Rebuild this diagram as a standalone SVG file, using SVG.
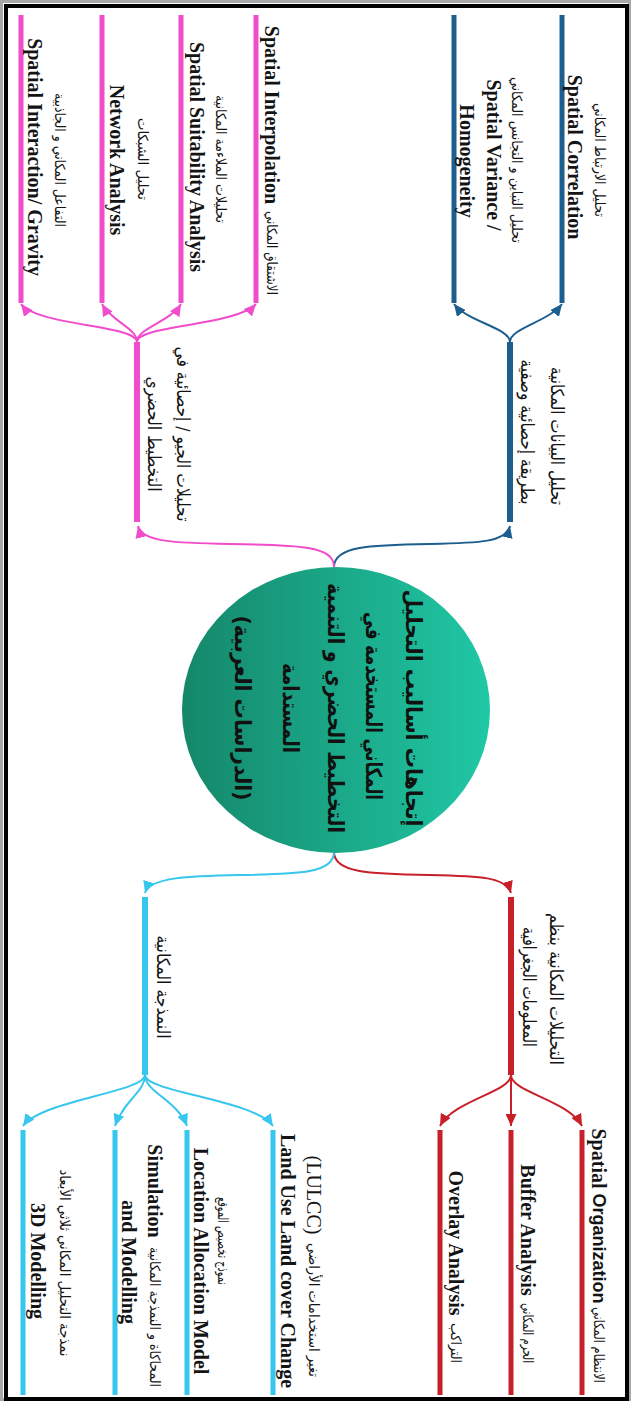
<svg xmlns="http://www.w3.org/2000/svg" width="631" height="1401" viewBox="0 0 631 1401">
<style>
.en{font-family:"Liberation Serif",serif;font-weight:bold;font-size:20px;fill:#141414}
.sa{font-family:"Liberation Sans",sans-serif;font-weight:bold;font-size:18px}
.ar{font-family:"DejaVu Sans",sans-serif;font-size:14px;fill:#141414}
.arm{font-family:"DejaVu Sans",sans-serif;font-size:18px;fill:#141414}
.arc{font-family:"DejaVu Sans",sans-serif;font-size:22px;font-weight:bold;fill:#111}
text{dominant-baseline:central;text-anchor:middle}
.cb{stroke:#1c5f8e}.cp{stroke:#f04ccb}.cr{stroke:#c8202a}.cc{stroke:#36c6ee}
.conn path{fill:none;stroke-width:2}
.bar{stroke-width:5}
.mbar{stroke-width:6}
</style>
<defs>
<linearGradient id="g" x1="0" y1="0" x2="1" y2="0">
<stop offset="0" stop-color="#15876a"/><stop offset="1" stop-color="#20c8a5"/>
</linearGradient>
<marker id="mb" markerUnits="userSpaceOnUse" markerWidth="13" markerHeight="11" refX="12" refY="5.5" orient="auto"><path d="M0,0 L12,5.5 L0,11 z" fill="#1c5f8e"/></marker>
<marker id="mp" markerUnits="userSpaceOnUse" markerWidth="13" markerHeight="11" refX="12" refY="5.5" orient="auto"><path d="M0,0 L12,5.5 L0,11 z" fill="#f04ccb"/></marker>
<marker id="mr" markerUnits="userSpaceOnUse" markerWidth="13" markerHeight="11" refX="12" refY="5.5" orient="auto"><path d="M0,0 L12,5.5 L0,11 z" fill="#c8202a"/></marker>
<marker id="mc" markerUnits="userSpaceOnUse" markerWidth="13" markerHeight="11" refX="12" refY="5.5" orient="auto"><path d="M0,0 L12,5.5 L0,11 z" fill="#36c6ee"/></marker>
</defs>
<rect x="0" y="0" width="631" height="1401" fill="#fff"/>
<rect x="1.5" y="1.5" width="628" height="1398" fill="none" stroke="#a8a8a8" stroke-width="3"/>
<rect x="6" y="6" width="621" height="1393" fill="none" stroke="#000" stroke-width="4"/>

<g id="connectors" class="conn">
<path class="cb" d="M334,567 C334,546 370,545 430,544 C480,543 506,542 510,526" marker-end="url(#mb)"/>
<path class="cp" d="M334,567 C334,546 300,545 230,544 C175,543 142,542 138,526" marker-end="url(#mp)"/>
<path class="cr" d="M334,852 C334,873 370,874 430,875 C480,876 506,877 511,893" marker-end="url(#mr)"/>
<path class="cc" d="M334,852 C334,873 300,874 240,875 C190,876 150,877 145,893" marker-end="url(#mc)"/>
<path class="cb" d="M510,342 C510,328 548,322 562,304" marker-end="url(#mb)"/>
<path class="cb" d="M510,342 C510,328 468,322 454,304" marker-end="url(#mb)"/>
<path class="cp" d="M137,342 C137,325 236,326 256,304" marker-end="url(#mp)"/>
<path class="cp" d="M137,342 C137,328 170,322 181,304" marker-end="url(#mp)"/>
<path class="cp" d="M137,342 C137,328 112,322 102,304" marker-end="url(#mp)"/>
<path class="cp" d="M137,342 C137,325 38,326 21,304" marker-end="url(#mp)"/>
<path class="cr" d="M511,1075 C511,1092 568,1100 582,1126" marker-end="url(#mr)"/>
<path class="cr" d="M511,1075 L511,1126" marker-end="url(#mr)"/>
<path class="cr" d="M511,1075 C511,1092 454,1100 440,1126" marker-end="url(#mr)"/>
<path class="cc" d="M145,1075 C145,1092 255,1100 273,1126" marker-end="url(#mc)"/>
<path class="cc" d="M145,1075 C145,1092 177,1100 187,1126" marker-end="url(#mc)"/>
<path class="cc" d="M145,1075 C145,1092 124,1100 115,1126" marker-end="url(#mc)"/>
<path class="cc" d="M145,1075 C145,1092 42,1100 23,1126" marker-end="url(#mc)"/>
</g>

<g id="center">
<ellipse cx="336" cy="710" rx="154" ry="143" fill="url(#g)"/>
<text class="arc" transform="translate(413,708) rotate(90)" textLength="237" lengthAdjust="spacingAndGlyphs">إتجاهات أساليب التحليل</text>
<text class="arc" transform="translate(373,706) rotate(90)" textLength="188" lengthAdjust="spacingAndGlyphs">المكاني المستخدمة في</text>
<text class="arc" transform="translate(335,708) rotate(90)" textLength="250" lengthAdjust="spacingAndGlyphs">التخطيط الحضري و التنمية</text>
<text class="arc" transform="translate(290,708) rotate(90)" textLength="90" lengthAdjust="spacingAndGlyphs">المستدامة</text>
<text class="arc" transform="translate(242,708) rotate(90)" textLength="185" lengthAdjust="spacingAndGlyphs">(الدراسات العربية)</text>
</g>

<g id="b-main">
<line class="cb mbar" x1="510" y1="342" x2="510" y2="522"/>
<text class="arm" transform="translate(557,436) rotate(90)" textLength="138" lengthAdjust="spacingAndGlyphs">تحليل البيانات المكانية</text>
<text class="arm" transform="translate(527,432) rotate(90)" textLength="145" lengthAdjust="spacingAndGlyphs">بطريقة إحصائية وصفية</text>
</g>
<g id="b-corr">
<line class="cb bar" x1="562" y1="15" x2="562" y2="303"/>
<text class="ar" transform="translate(600,160) rotate(90)" textLength="114" lengthAdjust="spacingAndGlyphs">تحليل الارتباط المكاني</text>
<text class="en" transform="translate(575,157) rotate(90)">Spatial Correlation</text>
</g>
<g id="b-var">
<line class="cb bar" x1="454" y1="15" x2="454" y2="303"/>
<text class="ar" transform="translate(517,160) rotate(90)" textLength="166" lengthAdjust="spacingAndGlyphs">تحليل التباين و التجانس المكاني</text>
<text class="en" transform="translate(494,155) rotate(90)">Spatial Variance /</text>
<text class="en" transform="translate(467,161) rotate(90)">Homogeneity</text>
</g>

<g id="p-main">
<line class="cp mbar" x1="137" y1="342" x2="137" y2="522"/>
<text class="arm" transform="translate(183,434) rotate(90)" textLength="175" lengthAdjust="spacingAndGlyphs">تحليلات الجيو / إحصائية في</text>
<text class="arm" transform="translate(154,434) rotate(90)" textLength="115" lengthAdjust="spacingAndGlyphs">التخطيط الحضري</text>
</g>
<g id="p-interp">
<line class="cp bar" x1="256" y1="15" x2="256" y2="303"/>
<text class="en" transform="translate(272,115) rotate(90)">Spatial Interpolation</text>
<text class="ar" transform="translate(272,253) rotate(90)" textLength="84" lengthAdjust="spacingAndGlyphs">الاشتقاق المكاني</text>
</g>
<g id="p-suit">
<line class="cp bar" x1="181" y1="15" x2="181" y2="303"/>
<text class="ar" transform="translate(221,159) rotate(90)" textLength="128" lengthAdjust="spacingAndGlyphs">تحليلات الملاءمة المكانية</text>
<text class="en" transform="translate(197,157) rotate(90)">Spatial Suitability Analysis</text>
</g>
<g id="p-net">
<line class="cp bar" x1="102" y1="15" x2="102" y2="303"/>
<text class="ar" transform="translate(143,159) rotate(90)" textLength="82" lengthAdjust="spacingAndGlyphs">تحليل الشبكات</text>
<text class="en" transform="translate(117,160) rotate(90)">Network Analysis</text>
</g>
<g id="p-grav">
<line class="cp bar" x1="21" y1="15" x2="21" y2="303"/>
<text class="ar" transform="translate(60,160) rotate(90)" textLength="134" lengthAdjust="spacingAndGlyphs">التفاعل المكاني و الجاذبية</text>
<text class="en" transform="translate(35,157) rotate(90)">Spatial Interaction/ Gravity</text>
</g>

<g id="r-main">
<line class="cr mbar" x1="511" y1="897" x2="511" y2="1075"/>
<text class="arm" transform="translate(556,989) rotate(90)" textLength="152" lengthAdjust="spacingAndGlyphs">التحليلات المكانية بنظم</text>
<text class="arm" transform="translate(529,987) rotate(90)" textLength="120" lengthAdjust="spacingAndGlyphs">المعلومات الجغرافية</text>
</g>
<g id="r-org">
<line class="cr bar" x1="582" y1="1130" x2="582" y2="1395"/>
<text class="en" transform="translate(599,1216) rotate(90)">Spatial <tspan class="sa">Organization</tspan></text>
<text class="ar" transform="translate(599,1345) rotate(90)" textLength="76" lengthAdjust="spacingAndGlyphs">الانتظام المكاني</text>
</g>
<g id="r-buf">
<line class="cr bar" x1="511" y1="1130" x2="511" y2="1395"/>
<text class="en" transform="translate(528,1230) rotate(90)">Buffer Analysis</text>
<text class="ar" transform="translate(528,1333) rotate(90)" textLength="60" lengthAdjust="spacingAndGlyphs">الحرم المكاني</text>
</g>
<g id="r-ovl">
<line class="cr bar" x1="440" y1="1130" x2="440" y2="1395"/>
<text class="en" transform="translate(456,1243) rotate(90)">Overlay Analysis</text>
<text class="ar" transform="translate(456,1343) rotate(90)" textLength="40" lengthAdjust="spacingAndGlyphs">التراكب</text>
</g>

<g id="c-main">
<line class="cc mbar" x1="145" y1="897" x2="145" y2="1075"/>
<text class="arm" transform="translate(163,987) rotate(90)" textLength="103" lengthAdjust="spacingAndGlyphs">النمذجة المكانية</text>
</g>
<g id="c-lulcc">
<line class="cc bar" x1="273" y1="1130" x2="273" y2="1395" stroke-width="6"/>
<text class="en" style="font-weight:normal" transform="translate(314,1195) rotate(90)">(LULCC)</text>
<text class="ar" transform="translate(314,1310) rotate(90)" textLength="134" lengthAdjust="spacingAndGlyphs">تغير استخدامات الأراضي</text>
<text class="en" transform="translate(288,1261) rotate(90)">Land Use Land cover Change</text>
</g>
<g id="c-loc">
<line class="cc bar" x1="187" y1="1130" x2="187" y2="1395" stroke-width="6"/>
<text class="ar" transform="translate(223,1241) rotate(90)" textLength="88" lengthAdjust="spacingAndGlyphs">نموذج تخصيص الموقع</text>
<text class="en" transform="translate(201,1261) rotate(90)">Location Allocation Model</text>
</g>
<g id="c-sim">
<line class="cc bar" x1="115" y1="1130" x2="115" y2="1395" stroke-width="6"/>
<text class="en" transform="translate(155,1191) rotate(90)">Simulation</text>
<text class="ar" transform="translate(155,1317) rotate(90)" textLength="140" lengthAdjust="spacingAndGlyphs">المحاكاة و النمذجة المكانية</text>
<text class="en" transform="translate(129,1262) rotate(90)">and Modelling</text>
</g>
<g id="c-3d">
<line class="cc bar" x1="23" y1="1130" x2="23" y2="1395" stroke-width="6"/>
<text class="ar" transform="translate(65,1263) rotate(90)" textLength="187" lengthAdjust="spacingAndGlyphs">نمذجة التحليل المكاني ثلاثي الأبعاد</text>
<text class="en" transform="translate(38,1261) rotate(90)">3D Modelling</text>
</g>
</svg>
